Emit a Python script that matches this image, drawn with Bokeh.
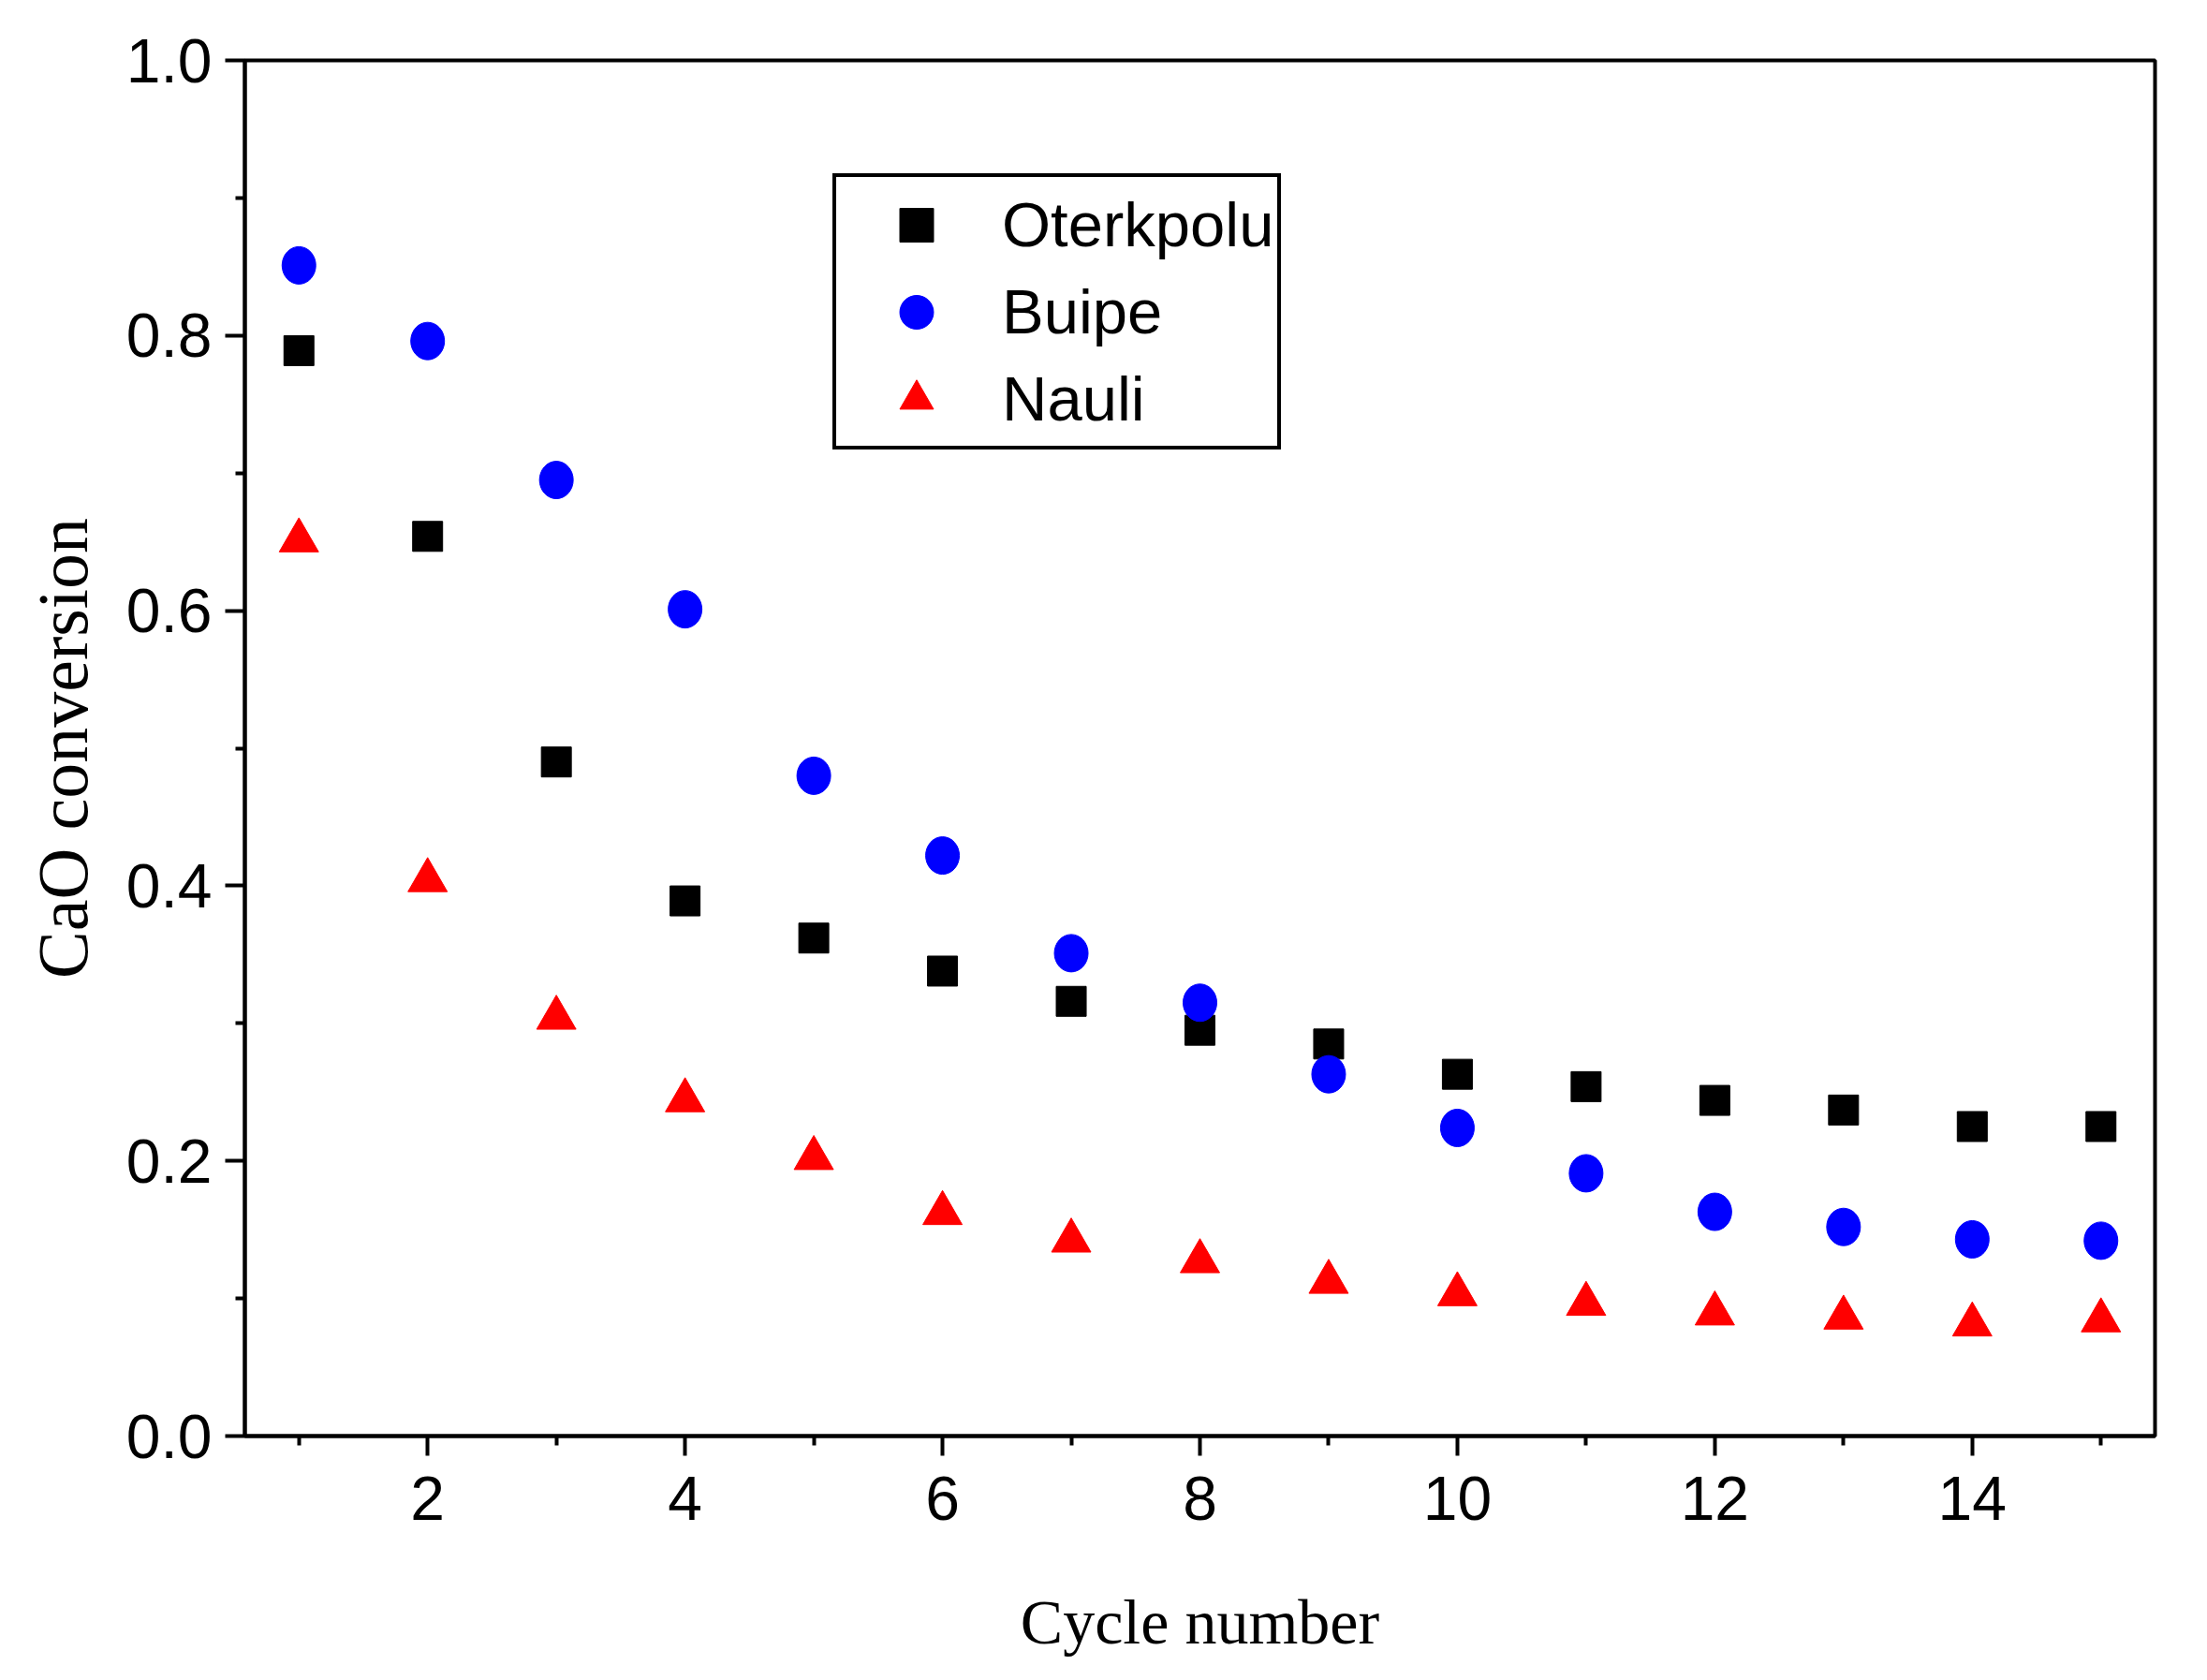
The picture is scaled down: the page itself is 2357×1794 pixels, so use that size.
from bokeh.plotting import figure
from bokeh.models import FixedTicker, PrintfTickFormatter, Range1d, Legend, LegendItem
from bokeh.embed import file_html
from bokeh.resources import INLINE

cycles = list(range(1, 16))
oterkpolu = [0.789, 0.654, 0.490, 0.389, 0.362, 0.338, 0.316, 0.295, 0.285, 0.263,
             0.254, 0.244, 0.237, 0.225, 0.225]
buipe = [0.851, 0.796, 0.695, 0.601, 0.480, 0.422, 0.351, 0.315, 0.263, 0.224,
         0.191, 0.163, 0.152, 0.143, 0.142]
nauli = [0.651, 0.404, 0.304, 0.244, 0.202, 0.162, 0.142, 0.127, 0.112, 0.103,
         0.096, 0.089, 0.086, 0.081, 0.084]

x_major = [2, 4, 6, 8, 10, 12, 14]
x_minor = [1, 3, 5, 7, 9, 11, 13, 15]
y_major = [0.0, 0.2, 0.4, 0.6, 0.8, 1.0]
y_minor = [0.1, 0.3, 0.5, 0.7, 0.9]

SANS = "Liberation Sans"
SERIF = "Liberation Serif"

p = figure(width=2341, height=1778, output_backend="svg", toolbar_location=None,
           x_range=Range1d(0.58, 15.42), y_range=Range1d(0, 1.0),
           min_border_left=261, min_border_right=40, min_border_top=64,
           min_border_bottom=245)
p.grid.visible = False
p.outline_line_color = "black"
p.outline_line_width = 4
p.outline_line_alpha = 1

r1 = p.scatter(cycles, oterkpolu, marker="square", size=32, color="black")
p.ellipse(cycles, buipe, width=36, height=40, width_units="screen",
          height_units="screen", color="blue")
r3 = p.scatter(cycles, nauli, marker="triangle", size=42, color="red")

# proxy for the round legend marker (no visible point)
r2 = p.scatter([float("nan")], [float("nan")], marker="circle", color="blue")

legend = Legend(items=[LegendItem(label="Oterkpolu", renderers=[r1]),
                       LegendItem(label="Buipe", renderers=[r2]),
                       LegendItem(label="Nauli", renderers=[r3])],
                location=(628, 1053), padding=4, spacing=0,
                glyph_width=163, glyph_height=90, label_height=93,
                label_standoff=10, label_text_font=SANS,
                label_text_font_size="67px", label_text_color="black",
                border_line_color="black", border_line_alpha=1,
                border_line_width=4, margin=0)
p.add_layout(legend, "center")

for ax in (p.xaxis[0], p.yaxis[0]):
    ax.axis_line_width = 4
    ax.major_tick_line_width = 4
    ax.minor_tick_line_width = 4
    ax.major_tick_in = 0
    ax.minor_tick_in = 0
    ax.major_tick_out = 21
    ax.minor_tick_out = 10
    ax.major_label_text_font = SANS
    ax.major_label_text_font_size = "66px"
    ax.major_label_text_color = "black"
    ax.axis_label_text_font = SERIF
    ax.axis_label_text_font_style = "normal"
    ax.axis_label_text_color = "black"

p.xaxis.axis_label_text_font_size = "68px"
p.yaxis.axis_label_text_font_size = "76px"
p.xaxis.ticker = FixedTicker(ticks=x_major, minor_ticks=x_minor)
p.yaxis.ticker = FixedTicker(ticks=y_major, minor_ticks=y_minor)
p.yaxis.formatter = PrintfTickFormatter(format="%.1f")
p.xaxis.axis_label = "Cycle number"
p.yaxis.axis_label = "CaO conversion"
p.xaxis.major_label_standoff = 22
p.yaxis.major_label_standoff = 14
p.xaxis.axis_label_standoff = 68
p.yaxis.axis_label_standoff = 23

open("out.html", "w").write(file_html(p, INLINE))
